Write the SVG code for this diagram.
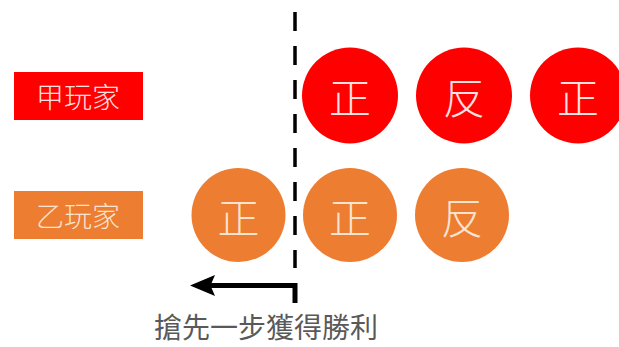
<svg xmlns="http://www.w3.org/2000/svg" width="619" height="347" viewBox="0 0 619 347">
<style>
.t{font-family:"Noto Sans CJK TC","Noto Sans CJK SC",sans-serif;text-anchor:middle;dominant-baseline:central}
.red{fill:#FF0000}
.org{fill:#ED7D31}
.lbl{font-size:28px;font-weight:300}
.coin{font-size:42px;font-weight:300}
.rt{fill:#FFE0E0}
.ot{fill:#FBE3CF}
</style>
<defs>
<marker id="ah" markerWidth="6" markerHeight="5" refX="3" refY="2.1" orient="auto" markerUnits="strokeWidth" overflow="visible">
<path d="M0,0 L5,2.1 L0,4.2 L0.9,2.1 Z" fill="#000"/>
</marker>
</defs>
<g id="label-a">
<rect class="red" x="14" y="72" width="129" height="48"/>
<text class="t lbl rt" x="78" y="96">甲玩家</text>
</g>
<g id="label-b">
<rect class="org" x="14" y="191" width="129" height="48"/>
<text class="t lbl ot" x="78" y="215">乙玩家</text>
</g>
<g id="a1"><circle class="red" cx="350" cy="95.5" r="48"/><text class="t coin rt" x="350" y="95.5">正</text></g>
<g id="a2"><circle class="red" cx="464" cy="95.5" r="48"/><text class="t coin rt" x="464" y="95.5">反</text></g>
<g id="a3"><circle class="red" cx="578" cy="95.5" r="48"/><text class="t coin rt" x="578" y="95.5">正</text></g>
<g id="b1"><circle class="org" cx="238.5" cy="215" r="47"/><text class="t coin ot" x="238.5" y="215">正</text></g>
<g id="b2"><circle class="org" cx="350" cy="215" r="47"/><text class="t coin ot" x="350" y="215">正</text></g>
<g id="b3"><circle class="org" cx="462" cy="215" r="47"/><text class="t coin ot" x="462" y="215">反</text></g>
<g id="connectors">
<line x1="295" y1="12" x2="295" y2="268" stroke="#000" stroke-width="3.5" stroke-dasharray="19 15"/>
<path d="M295,303 V285.5 H200" fill="none" stroke="#000" stroke-width="5" marker-end="url(#ah)"/>
</g>
<g id="caption">
<text class="t" x="266" y="326" font-size="28" fill="#595959">搶先一步獲得勝利</text>
</g>
</svg>
